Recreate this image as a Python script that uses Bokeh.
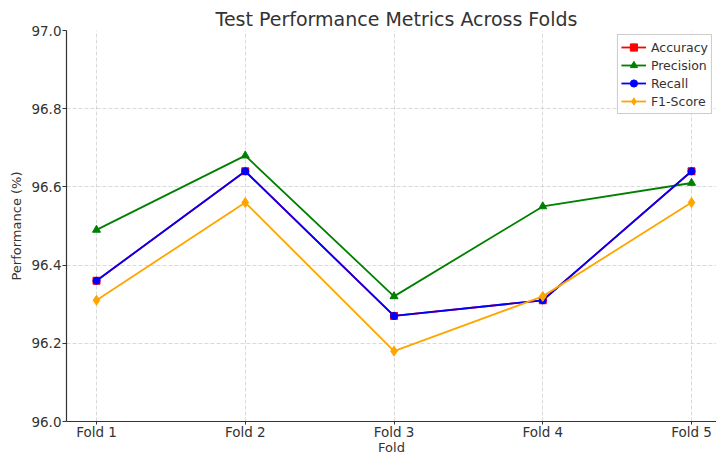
from bokeh.plotting import figure
from bokeh.models import FixedTicker, Range1d, Legend
from bokeh.embed import file_html
from bokeh.resources import INLINE

folds = ["Fold 1", "Fold 2", "Fold 3", "Fold 4", "Fold 5"]
accuracy = [96.36, 96.64, 96.27, 96.31, 96.64]
precision = [96.49, 96.68, 96.32, 96.55, 96.61]
recall = [96.36, 96.64, 96.27, 96.31, 96.64]
f1 = [96.31, 96.56, 96.18, 96.32, 96.56]
y_ticks = [96.0, 96.2, 96.4, 96.6, 96.8, 97.0]

xs = list(range(len(folds)))
FONT = "DejaVu Sans"

p = figure(width=716, height=457, output_backend="svg", toolbar_location=None,
           x_range=Range1d(-0.2017, 4.168), y_range=Range1d(96.0, 97.0),
           title="Test Performance Metrics Across Folds",
           min_border_left=66, min_border_right=0, min_border_top=30, min_border_bottom=36)

p.title.align = "left"
p.title.offset = 149
p.title.text_font = FONT
p.title.text_font_size = "19px"
p.title.text_font_style = "normal"
p.title.text_color = "#333333"
p.title.text_line_height = 1.0
p.title.standoff = 2

p.outline_line_color = None
p.background_fill_color = "white"
p.border_fill_color = "white"

for ax in (p.xaxis, p.yaxis):
    ax.axis_line_color = "#333333"
    ax.axis_line_width = 1.2
    ax.major_tick_line_color = "#333333"
    ax.major_tick_out = 4
    ax.major_tick_in = 0
    ax.minor_tick_line_color = None
    ax.major_label_text_font = FONT
    ax.major_label_text_font_size = "13.5px"
    ax.major_label_text_color = "#333333"
    ax.major_label_text_line_height = 1.0
    ax.axis_label_text_font = FONT
    ax.axis_label_text_font_size = "13px"
    ax.axis_label_text_font_style = "normal"
    ax.axis_label_text_color = "#333333"
    ax.axis_label_text_line_height = 1.0

p.xaxis.major_tick_out = 3
p.xaxis.major_label_standoff = -1
p.xaxis.axis_label_standoff = -3
p.yaxis.major_label_standoff = 1
p.yaxis.axis_label_standoff = 4

p.xaxis.ticker = FixedTicker(ticks=xs)
p.xaxis.major_label_overrides = {i: f for i, f in enumerate(folds)}
p.xaxis.axis_label = "Fold"
p.yaxis.ticker = FixedTicker(ticks=y_ticks)
p.yaxis.major_label_overrides = {t: f"{t:.1f}" for t in y_ticks}
p.yaxis.axis_label = "Performance (%)"

for g in (p.xgrid, p.ygrid):
    g.grid_line_color = "#b0b0b0"
    g.grid_line_alpha = 0.6
    g.grid_line_dash = "4 2"
    g.grid_line_width = 0.8

series = [
    ("Accuracy", accuracy, "red", "square", 7),
    ("Precision", precision, "green", "triangle", 8),
    ("Recall", recall, "blue", "circle", 7),
    ("F1-Score", f1, "orange", "diamond", 10),
]
items = []
for name, vals, color, marker, sz in series:
    l = p.line(xs, vals, line_color=color, line_width=1.8)
    s = p.scatter(xs, vals, marker=marker, size=sz, fill_color=color, line_color=color)
    items.append((name, [l, s]))

legend = Legend(items=items, location="top_right")
legend.label_text_font = FONT
legend.label_text_font_size = "12.5px"
legend.label_text_color = "#333333"
legend.label_height = 18
legend.border_line_color = "#cccccc"
legend.border_line_alpha = 1
legend.background_fill_alpha = 0.8
legend.glyph_width = 25
legend.glyph_height = 18
legend.spacing = 0
legend.padding = 3
legend.margin = 4
legend.label_standoff = 5
p.add_layout(legend)

open("out.html", "w").write(file_html(p, INLINE))
